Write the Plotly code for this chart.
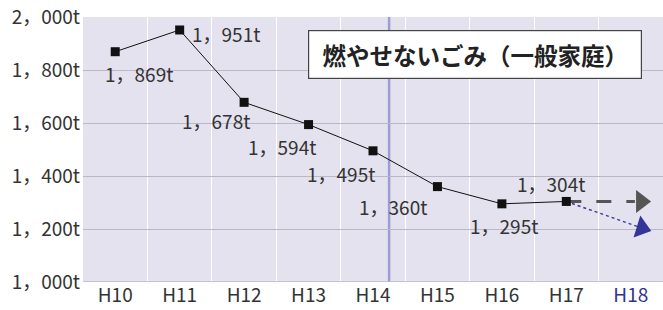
import plotly.graph_objects as go

categories = ["H10", "H11", "H12", "H13", "H14", "H15", "H16", "H17", "H18"]
values = [1869, 1951, 1678, 1594, 1495, 1360, 1295, 1304]
value_labels = ["1，869t", "1，951t", "1，678t", "1，594t", "1，495t", "1，360t", "1，295t", "1，304t"]
proj_flat = 1304     # H18 projection (gray dashed arrow)
proj_down = 1190     # H18 projection (blue dotted arrow)
y_ticks = [1000, 1200, 1400, 1600, 1800, 2000]
y_ticklabels = ["1，000t", "1，200t", "1，400t", "1，600t", "1，800t", "2，000t"]
title_text = "燃やせないごみ（一般家庭）"

# label offsets in px (layout only)
label_offsets = [(24, -22), (46, -4), (-28, -18), (-27, -22), (-32, -23), (-44, -20), (2, -22), (-15, 18)]

FONT = "Noto Sans CJK JP"
bg = "#e3e2ee"
xs = list(range(len(values)))
x_last = xs[-1]
tip_x = 8.33

fig = go.Figure()

# gray dashed projection
fig.add_trace(go.Scatter(
    x=[x_last, x_last + (tip_x - x_last) * 0.8], y=[values[-1], values[-1] + (proj_flat - values[-1]) * 0.8],
    mode="lines", line=dict(color="#555555", width=3, dash="15px,15px"), hoverinfo="skip"))
fig.add_trace(go.Scatter(
    x=[tip_x - 0.17], y=[proj_flat], mode="markers",
    marker=dict(symbol="triangle-right", size=20, color="#555555", line=dict(width=0)), hoverinfo="skip"))

# blue dotted projection
fig.add_trace(go.Scatter(
    x=[x_last, x_last + (tip_x - x_last) * 0.85], y=[values[-1], values[-1] + (proj_down - values[-1]) * 0.85],
    mode="lines", line=dict(color="#3a3a9a", width=1.5, dash="3px,3px"), hoverinfo="skip"))
fig.add_trace(go.Scatter(
    x=[tip_x - 0.16], y=[values[-1] + (proj_down - values[-1]) * 0.88], mode="markers",
    marker=dict(symbol="triangle-right", size=20, color="#34349a", angle=17, line=dict(width=0)),
    hoverinfo="skip"))

# main series
fig.add_trace(go.Scatter(
    x=xs, y=values, mode="lines+markers",
    line=dict(color="#111111", width=1),
    marker=dict(symbol="square", size=9, color="#111111"), hoverinfo="skip"))

for i, (v, lab) in enumerate(zip(values, value_labels)):
    dx, dy = label_offsets[i]
    fig.add_annotation(x=i, y=v, text=lab, showarrow=False, xshift=dx, yshift=dy,
                       font=dict(family=FONT, size=19, color="#333333"))

# blue vertical separator
fig.add_shape(type="line", xref="x", yref="paper", x0=4.25, x1=4.25, y0=0, y1=1,
              line=dict(color="rgba(120,120,200,0.65)", width=2.5), layer="below")

fig.add_annotation(xref="paper", yref="paper", x=0.676, y=0.857, xanchor="center", yanchor="middle",
                   text="<b>" + title_text + "</b>",
                   showarrow=False, bgcolor="white", bordercolor="#444444", borderwidth=1.2,
                   borderpad=8, width=316, height=31,
                   font=dict(family=FONT, size=23.5, color="#222222"))

ticktext = categories[:-1] + ["<span style='color:#33338a'>" + categories[-1] + "</span>"]

fig.update_layout(
    width=663, height=310, showlegend=False,
    margin=dict(l=83, r=0, t=17, b=28),
    paper_bgcolor="white", plot_bgcolor=bg,
    xaxis=dict(range=[-0.5, 8.5], tickvals=list(range(len(categories))), ticktext=ticktext,
               showgrid=False, zeroline=False, showline=False, ticks="",
               tickfont=dict(family=FONT, size=19, color="#333333"),
               minor=dict(tickvals=[i + 0.5 for i in range(8)], showgrid=True, gridcolor="white", gridwidth=1),
               fixedrange=True),
    yaxis=dict(range=[1000, 2000], tickvals=y_ticks, ticktext=y_ticklabels,
               showgrid=True, gridcolor="#b9b8c6", gridwidth=1, zeroline=False,
               showline=False, ticks="", ticklabelstandoff=2,
               tickfont=dict(family=FONT, size=19, color="#333333"), fixedrange=True),
)
fig.add_shape(type="line", xref="paper", yref="y", x0=0, x1=1, y0=1000, y1=1000,
              line=dict(color="#b9b8c6", width=1.5))

fig.write_html("out.html", config={"displayModeBar": False},
               post_script="document.body.style.margin='0';document.body.style.overflow='hidden';")
